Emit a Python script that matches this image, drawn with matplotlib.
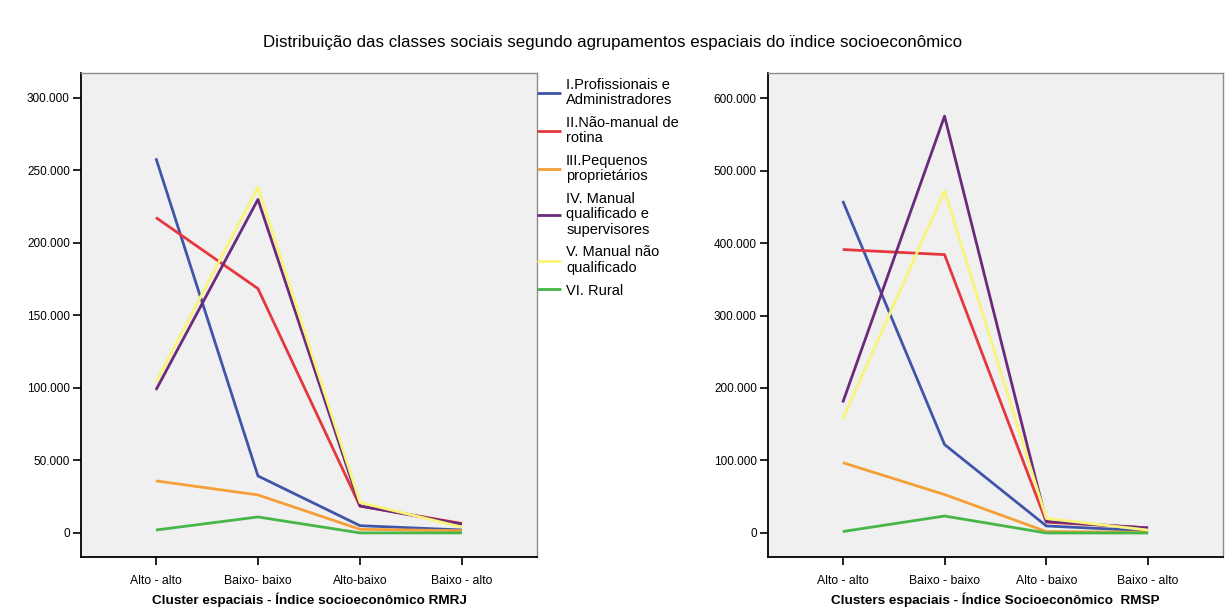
import matplotlib
matplotlib.use("Agg")
import matplotlib.pyplot as plt
from matplotlib.ticker import FuncFormatter

plt.rcParams["font.family"] = ["Liberation Sans", "DejaVu Sans"]

# classes sociais
classes = [
    "I.Profissionais e\nAdministradores",
    "II.Não-manual de\nrotina",
    "III.Pequenos\nproprietários",
    "IV. Manual\nqualificado e\nsupervisores",
    "V. Manual não\nqualificado",
    "VI. Rural",
]
cores = ["#3f55a8", "#e5373d", "#f4a037", "#6b2a7c", "#f9f47a", "#46b649"]

# RMRJ
cats_rj = ["Alto - alto", "Baixo- baixo", "Alto-baixo", "Baixo - alto"]
rj_I = [258400, 39300, 5000, 2000]
rj_II = [217500, 168500, 18500, 6500]
rj_III = [35900, 26200, 2500, 1500]
rj_IV = [98600, 230000, 18600, 6000]
rj_V = [104000, 238400, 21000, 4000]
rj_VI = [2000, 11000, 0, 0]

# RMSP
cats_sp = ["Alto - alto", "Baixo - baixo", "Alto - baixo", "Baixo - alto"]
sp_I = [458000, 122000, 9700, 3000]
sp_II = [391000, 384000, 15000, 7000]
sp_III = [97000, 53000, 2000, 1000]
sp_IV = [180000, 575000, 16000, 7000]
sp_V = [157000, 472000, 20000, 4000]
sp_VI = [2000, 23400, 0, 0]

fmt = FuncFormatter(lambda v, p: "0" if v == 0 else f"{int(v):,}".replace(",", "."))

fig = plt.figure(figsize=(12.25, 6.12), dpi=100)
ax1 = fig.add_axes([0.0661, 0.0899, 0.3722, 0.7908])
ax2 = fig.add_axes([0.6269, 0.0899, 0.3714, 0.7908])


def painel(ax, cats, series, ylim, yticks, xlabel):
    ax.set_facecolor("#f0f0f0")
    x = range(len(cats))
    for s, c, lab in zip(series, cores, classes):
        ax.plot(x, s, color=c, linewidth=2.0, label=lab, solid_capstyle="butt")
    ax.set_xlim(-0.735, 3.735)
    ax.set_ylim(*ylim)
    ax.set_yticks(yticks)
    ax.yaxis.set_major_formatter(fmt)
    ax.set_xticks(list(x))
    ax.set_xticklabels(cats, fontsize=8.8)
    ax.tick_params(axis="y", labelsize=8.5, length=6, width=1.2, pad=2)
    ax.tick_params(axis="x", length=6, width=1.2, pad=7)
    for sp in ["left", "bottom"]:
        ax.spines[sp].set_color("black")
        ax.spines[sp].set_linewidth(1.3)
    for sp in ["top", "right"]:
        ax.spines[sp].set_color("#8c8c8c")
        ax.spines[sp].set_linewidth(1.0)
    ax.set_xlabel(xlabel, fontsize=9.7, fontweight="bold", labelpad=4)


painel(ax1, cats_rj, [rj_I, rj_II, rj_III, rj_IV, rj_V, rj_VI],
       (-16600, 317200), [0, 50000, 100000, 150000, 200000, 250000, 300000],
       "Cluster espaciais - Índice socioeconômico RMRJ")
painel(ax2, cats_sp, [sp_I, sp_II, sp_III, sp_IV, sp_V, sp_VI],
       (-33100, 634500), [0, 100000, 200000, 300000, 400000, 500000, 600000],
       "Clusters espaciais - Índice Socioeconômico  RMSP")

leg = ax1.legend(loc="upper left", bbox_to_anchor=(1.0, 0.99), frameon=False,
                 fontsize=10.5, handlelength=1.65, handletextpad=0.35,
                 labelspacing=0.6, borderaxespad=0, borderpad=0)
for t in leg.get_texts():
    t.set_linespacing(1.12)

fig.text(0.5, 0.931, "Distribuição das classes sociais segundo agrupamentos espaciais do ïndice socioeconômico",
         ha="center", va="center", fontsize=12.2)

fig.savefig("out.png", dpi=100)
